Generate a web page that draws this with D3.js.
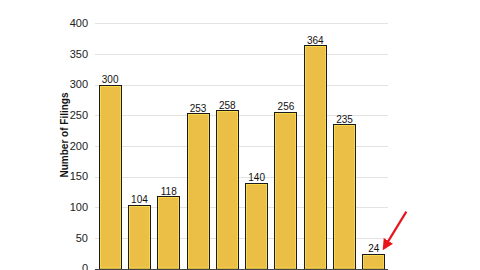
<!DOCTYPE html>
<html><head><meta charset="utf-8">
<script src="https://cdn.jsdelivr.net/npm/d3@7"></script>
<style>body{margin:0;background:#fff;}svg{display:block;font-family:Arial,"Liberation Sans",sans-serif;}</style>
</head><body>
<svg id="c" width="480" height="270"></svg>
<script>
const categories = ["A","B","C","D","E","F","G","H","I","J"];
const values = [300,104,118,253,258,140,256,364,235,24];
const yTicks = [0,50,100,150,200,250,300,350,400];
const yTitle = "Number of Filings";

const svg = d3.select("#c");
const x = d3.scaleBand().domain(categories).range([95,388]).paddingInner(0.25).paddingOuter(0.125);
const y = d3.scaleLinear().domain([0,400]).range([268.6,23.3]);

// gridlines
svg.append("g").selectAll("line").data(yTicks.filter(d=>d>0)).join("line")
  .attr("x1",95).attr("x2",388)
  .attr("y1",d=>Math.round(y(d))+0.5).attr("y2",d=>Math.round(y(d))+0.5)
  .attr("stroke","#e3e3e3").attr("stroke-width",1);

// y tick labels
svg.append("g").selectAll("text").data(yTicks).join("text")
  .attr("x",88).attr("y",d=>y(d)).attr("dy","0.35em")
  .attr("text-anchor","end").attr("font-size",11).attr("fill","#222")
  .text(d=>d);

// y title
svg.append("text").attr("transform","translate(68,135) rotate(-90)")
  .attr("text-anchor","middle").attr("font-size",10).attr("font-weight","bold").attr("fill","#111")
  .text(yTitle);

// bars
const bars = svg.append("g").selectAll("g").data(values).join("g");
bars.append("rect")
  .attr("x",(d,i)=>Math.round(x(categories[i]))+0.5)
  .attr("y",d=>Math.round(y(d))+0.5)
  .attr("width",Math.round(x.bandwidth()))
  .attr("height",d=>y(0)-Math.round(y(d)))
  .attr("fill","#ebbf45").attr("stroke","#1a1a1a").attr("stroke-width",1);
bars.append("rect")
  .attr("x",(d,i)=>Math.round(x(categories[i]))+1.5)
  .attr("y",d=>Math.round(y(d))+1.5)
  .attr("width",Math.round(x.bandwidth())-2)
  .attr("height",d=>Math.max(0,y(0)-Math.round(y(d))-2))
  .attr("fill","none").attr("stroke","#f7d94e").attr("stroke-width",1);

// value labels
svg.append("g").selectAll("text").data(values).join("text")
  .attr("x",(d,i)=>x(categories[i])+x.bandwidth()/2+0.5)
  .attr("y",d=>y(d)-1.5)
  .attr("text-anchor","middle").attr("font-size",10).attr("fill","#111")
  .text(d=>d);

// x axis baseline + ticks
const ax = svg.append("g").attr("transform",`translate(0,${Math.round(y(0))+0.5})`);
ax.append("line").attr("x1",95).attr("x2",388).attr("stroke","#444");
ax.selectAll("line.t").data(categories).join("line").attr("class","t")
  .attr("x1",c=>Math.round(x(c)+x.bandwidth()/2)+0.5).attr("x2",c=>Math.round(x(c)+x.bandwidth()/2)+0.5)
  .attr("y1",0).attr("y2",4).attr("stroke","#444");

// red arrow annotation
const defs = svg.append("defs");
defs.append("marker").attr("id","ah").attr("viewBox","0 0 10 10").attr("refX",8).attr("refY",5)
  .attr("markerWidth",5).attr("markerHeight",5).attr("orient","auto")
  .append("path").attr("d","M0,0L10,5L0,10z").attr("fill","#e8141c");
const last = categories.length-1;
svg.append("line")
  .attr("x1",x(categories[last])+x.bandwidth()+22).attr("y1",y(93))
  .attr("x2",x(categories[last])+x.bandwidth()-0.5).attr("y2",y(33))
  .attr("stroke","#e8141c").attr("stroke-width",2.2).attr("marker-end","url(#ah)");
</script>
</body></html>
